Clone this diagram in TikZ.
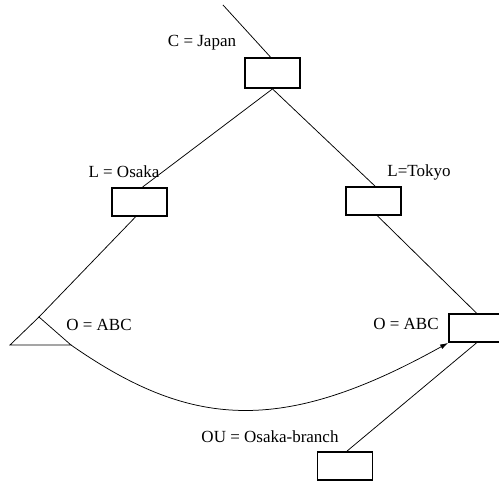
\documentclass[tikz,border=0pt]{standalone}
\usepackage{fontspec}
\setmainfont{Liberation Serif}
\usetikzlibrary{arrows.meta}
\tikzset{
    entry/.style={draw, line width=1.8pt, minimum width=55pt, minimum height=28pt, inner sep=0pt},
    attr/.style={font=\fontsize{17}{19}\selectfont, inner sep=0pt},
    link/.style={line width=0.75pt}}

\begin{document}
\begin{tikzpicture}[x=1pt,y=-1pt]
\useasboundingbox (0,0) rectangle (499,484);
% entries of the tree
\node[entry, minimum height=30pt] (japan) at (272.5,73) {};
\node[entry] (osaka) at (139.5,202) {};
\node[entry] (tokyo) at (373.5,201) {};
\node[entry] (abc) at (476.5,328) {};
\node[entry] (branch) at (345,466) {};

\node[attr] (cjapan) at (202,43) {C = Japan};
\node[attr] (losaka) at (124,172) {L = Osaka};
\node[attr] (ltokyo) at (419,172) {L=Tokyo};
\node[attr] (oleft) at (99,325) {O = ABC};
\node[attr] (oright) at (406,324) {O = ABC};
\node[attr] (oubranch) at (270,437) {OU = Osaka-branch};

% alias triangle
\coordinate (Ta) at (39,317);
\coordinate (Tl) at (10,345);
\coordinate (Tr) at (71,345);
\draw[link] (Ta) -- (Tl) -- (Tr) -- cycle;

\coordinate (Top) at (223,5);
\draw[link] (Top) -- ([xshift=-2pt]japan.north);
\draw[link] (japan.south) -- ([xshift=3pt]osaka.north);
\draw[link] (japan.south) -- ([xshift=1.5pt]tokyo.north);
\draw[link] ([xshift=-4pt]osaka.south) -- (Ta);
\draw[link] ([xshift=4pt]tokyo.south) -- (abc.north);
\draw[link] ([xshift=2pt]branch.north) -- (abc.south);
\draw[link, -{Latex[length=8pt,width=5pt]}] (Tr) .. controls (190,428) and (281,436) .. (abc.south west);
\end{tikzpicture}
\end{document}
